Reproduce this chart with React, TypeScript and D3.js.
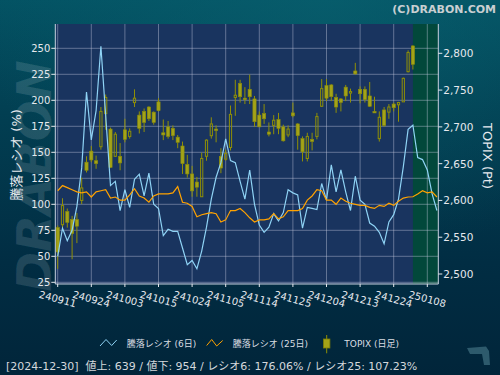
import React from "react";
import * as d3 from "d3";

// Trading days (YYMMDD)
const dates = [
  "240911","240912","240913","240917","240918","240919","240920",
  "240924","240925","240926","240927","240930","241001","241002",
  "241003","241004","241007","241008","241009","241010","241011",
  "241015","241016","241017","241018","241021","241022","241023",
  "241024","241025","241028","241029","241030","241031","241101",
  "241105","241106","241107","241108","241111","241112","241113",
  "241114","241115","241118","241119","241120","241121","241122",
  "241125","241126","241127","241128","241129","241202","241203",
  "241204","241205","241206","241209","241210","241211","241212",
  "241213","241216","241217","241218","241219","241220","241223",
  "241224","241225","241226","241227","241230","250106","250107",
  "250108","250109","250110",
];

// 騰落レシオ (6日)
const ratio6 = [
  50, 77, 65, 75, 98, 135, 208, 162, 190, 252,
  185, 118, 122, 94, 114, 97, 124, 129, 108, 130,
  100, 96, 70, 76, 74, 74, 58, 42, 46, 38,
  55, 78, 105, 126, 140, 163, 142, 140, 122, 105,
  133, 100, 80, 73, 78, 91, 84, 92, 114, 111,
  109, 77, 97, 96, 95, 120, 104, 138, 112, 133,
  112, 94, 127, 104, 100, 82, 79, 73, 62, 83,
  90, 105, 136, 172, 176.06, 145, 143, 133, 110, 94,
];

// 騰落レシオ (25日)
const ratio25 = [
  113, 118, 116, 114, 112, 111, 112, 107, 112, 113,
  114, 106, 107, 104, 104, 109, 115, 108, 106, 102,
  108, 110, 110, 110, 111, 117, 102, 101, 98, 88,
  90, 91, 92, 91, 83, 85, 94, 94, 96, 92,
  87, 83, 85, 85, 86, 91, 86, 88, 94, 94,
  94, 96, 104, 108, 114, 113, 104, 104, 100, 106,
  103, 101, 100, 99, 99, 97, 96, 99, 98, 101,
  99, 103, 106, 107, 107.23, 110, 113, 111, 112, 107,
];

// TOPIX daily OHLC
const topixOpen = [
  2563, 2567, 2585, 2574, 2574, 2600, 2652, 2667, 2654, 2673,
  2718, 2697, 2660, 2660, 2696, 2687, 2733, 2716, 2721, 2727,
  2720, 2734, 2692, 2700, 2698, 2686, 2674, 2649, 2636, 2625,
  2605, 2660, 2688, 2697, 2660, 2656, 2672, 2740, 2759, 2739,
  2751, 2738, 2716, 2718, 2693, 2702, 2710, 2700, 2689, 2719,
  2704, 2684, 2657, 2683, 2687, 2728, 2756, 2757, 2740, 2738,
  2754, 2746, 2776, 2751, 2751, 2742, 2721, 2684, 2723, 2720,
  2731, 2730, 2734, 2775, 2810,
];
const topixHigh = [
  2566, 2603, 2589, 2579, 2583, 2631, 2660, 2674, 2661, 2727,
  2744, 2699, 2693, 2678, 2711, 2698, 2751, 2721, 2725, 2728,
  2721, 2739, 2710, 2708, 2702, 2689, 2680, 2662, 2647, 2632,
  2665, 2683, 2713, 2702, 2671, 2669, 2729, 2764, 2764, 2754,
  2771, 2742, 2721, 2731, 2706, 2716, 2719, 2703, 2702, 2733,
  2705, 2687, 2692, 2692, 2719, 2765, 2765, 2758, 2745, 2739,
  2757, 2752, 2787, 2755, 2755, 2761, 2741, 2721, 2727, 2731,
  2733, 2734, 2767, 2804, 2811,
];
const topixLow = [
  2507, 2561, 2563, 2520, 2542, 2595, 2638, 2652, 2643, 2669,
  2696, 2644, 2659, 2641, 2679, 2684, 2727, 2691, 2693, 2708,
  2703, 2721, 2682, 2684, 2682, 2671, 2636, 2631, 2605, 2605,
  2605, 2654, 2684, 2679, 2637, 2654, 2668, 2715, 2733, 2731,
  2731, 2700, 2700, 2704, 2687, 2690, 2690, 2680, 2686, 2713,
  2669, 2653, 2653, 2668, 2683, 2727, 2735, 2735, 2719, 2721,
  2735, 2733, 2771, 2732, 2733, 2727, 2719, 2680, 2700, 2711,
  2721, 2707, 2734, 2774, 2778,
];
const topixClose = [
  2530, 2593, 2570, 2555, 2565, 2617, 2641, 2655, 2650, 2721,
  2740, 2645, 2690, 2651, 2683, 2694, 2739, 2698, 2706, 2711,
  2706, 2722, 2689, 2687, 2688, 2679, 2650, 2636, 2613, 2618,
  2657, 2682, 2704, 2695, 2644, 2664, 2717, 2743, 2741, 2737,
  2741, 2707, 2700, 2711, 2690, 2709, 2698, 2681, 2697, 2715,
  2688, 2666, 2687, 2680, 2714, 2752, 2739, 2741, 2727, 2733,
  2742, 2748, 2772, 2745, 2737, 2728, 2719, 2713, 2702, 2727,
  2726, 2733, 2766, 2801, 2785,
];

const leftTicks = [25, 50, 75, 100, 125, 150, 175, 200, 225, 250];
const rightTicks = [2500, 2550, 2600, 2650, 2700, 2750, 2800];
const tickEvery = 7;
const highlightFrom = "241230";

const legendLabels = ["騰落レシオ (6日)", "騰落レシオ (25日)", "TOPIX (日足)"];
const footerText =
  "[2024-12-30]\u00a0 値上: 639 / 値下: 954 / レシオ6: 176.06% / レシオ25: 107.23%";

const FONT = "'DejaVu Sans', 'Noto Sans CJK JP', sans-serif";

export default function App() {
  const W = 500;
  const H = 375;
  const plot = { left: 55.3, right: 438.3, top: 24, bottom: 284 };

  const x = d3.scaleLinear().domain([0, 77]).range([57.7, 427.3]);
  const yL = d3.scaleLinear().domain([25, 250]).range([282.3, 48.3]);
  const yR = d3.scaleLinear().domain([2500, 2800]).range([274, 53.3]);

  const line = d3
    .line<number>()
    .x((_, i) => x(i))
    .y((d) => yL(d));

  const tickIdx = dates.map((_, i) => i).filter((i) => i % tickEvery === 0);
  const hiStart = x(dates.indexOf(highlightFrom));
  const fmt = d3.format(",");

  const candles = topixOpen.map((o, i) => ({
    i,
    o,
    h: topixHigh[i],
    l: topixLow[i],
    c: topixClose[i],
  }));

  return (
    <svg
      width={W}
      height={H}
      style={{ position: "fixed", left: 0, top: 0, display: "block" }}
      fontFamily={FONT}
    >
      <defs>
        <linearGradient id="bg" x1="0" y1="0" x2="0" y2="1">
          <stop offset="0" stopColor="#035263" />
          <stop offset="0.3" stopColor="#023f52" />
          <stop offset="0.7" stopColor="#012d43" />
          <stop offset="1" stopColor="#01253a" />
        </linearGradient>
        <radialGradient id="glow" cx="0.65" cy="0" r="0.7">
          <stop offset="0" stopColor="#0a6472" stopOpacity="0.55" />
          <stop offset="1" stopColor="#0a6472" stopOpacity="0" />
        </radialGradient>
        <clipPath id="plotClip">
          <rect
            x={plot.left}
            y={plot.top}
            width={plot.right - plot.left}
            height={plot.bottom - plot.top}
          />
        </clipPath>
      </defs>
      <rect x={0} y={0} width={W} height={H} fill="url(#bg)" />
      <rect x={0} y={0} width={W} height={H} fill="url(#glow)" />

      {/* watermark */}
      <text
        transform="translate(38,176) rotate(-90)"
        textAnchor="middle"
        dominantBaseline="middle"
        fontSize={48}
        fontWeight="bold"
        fontStyle="italic"
        fill="#ffffff"
        fillOpacity={0.12}
        fontFamily="'DejaVu Sans', sans-serif"
      >
        DRABON
      </text>

      {/* copyright */}
      <text
        x={496}
        y={12.5}
        textAnchor="end"
        fontSize={11}
        fontWeight="bold"
        fill="#c9cfd2"
      >
        (C)DRABON.COM
      </text>

      {/* plot background */}
      <rect
        x={plot.left}
        y={plot.top}
        width={plot.right - plot.left}
        height={plot.bottom - plot.top}
        fill="#19345f"
      />
      <rect
        x={hiStart}
        y={plot.top}
        width={plot.right - hiStart}
        height={plot.bottom - plot.top}
        fill="#02483b"
      />

      {/* grid */}
      <g stroke="#c8cde0" strokeOpacity={0.42} strokeWidth={1}>
        {leftTicks.map((t) => (
          <line key={"h" + t} x1={plot.left} x2={plot.right} y1={yL(t)} y2={yL(t)} />
        ))}
        {tickIdx.map((i) => (
          <line key={"v" + i} x1={x(i)} x2={x(i)} y1={plot.top} y2={plot.bottom} />
        ))}
      </g>

      <g clipPath="url(#plotClip)">
        {/* candles */}
        {candles.map((d) => {
          const cx = x(d.i);
          const up = d.c >= d.o;
          const top = yR(Math.max(d.o, d.c));
          const bot = yR(Math.min(d.o, d.c));
          const hgt = Math.max(bot - top, 1.5);
          return (
            <g key={"c" + d.i}>
              <line x1={cx} x2={cx} y1={yR(d.h)} y2={top} stroke="#8f8f06" strokeWidth={1} />
              <line x1={cx} x2={cx} y1={top + hgt} y2={yR(d.l)} stroke="#8f8f06" strokeWidth={1} />
              {up ? (
                <rect
                  x={cx - 1.1}
                  y={top}
                  width={2.2}
                  height={hgt}
                  fill="none"
                  stroke="#8f8f06"
                  strokeWidth={1}
                />
              ) : (
                <rect
                  x={cx - 1.6}
                  y={top}
                  width={3.2}
                  height={hgt}
                  fill="#a3a318"
                  stroke="#8f8f06"
                  strokeWidth={0.6}
                />
              )}
            </g>
          );
        })}
        <path d={line(ratio6) || ""} fill="none" stroke="#8fd3f5" strokeWidth={1.2} />
        <path d={line(ratio25) || ""} fill="none" stroke="#ffa200" strokeWidth={1.2} />
      </g>

      {/* axes lines */}
      <g stroke="#c9d2e0" strokeWidth={1}>
        <line x1={plot.left} x2={plot.left} y1={plot.top} y2={plot.bottom} />
        <line x1={plot.right} x2={plot.right} y1={plot.top} y2={plot.bottom} />
        <line x1={plot.left} x2={plot.right} y1={plot.bottom} y2={plot.bottom} />
      </g>

      {/* left axis */}
      <g fontSize={10} fill="#e6e9ee">
        {leftTicks.map((t) => (
          <g key={"l" + t}>
            <line x1={plot.left - 4} x2={plot.left} y1={yL(t)} y2={yL(t)} stroke="#e6e9ee" />
            <text x={plot.left - 5} y={yL(t)} textAnchor="end" dominantBaseline="central">
              {t}
            </text>
          </g>
        ))}
      </g>
      {/* right axis */}
      <g fontSize={10.5} fill="#e6e9ee">
        {rightTicks.map((t) => (
          <g key={"r" + t}>
            <line x1={plot.right} x2={plot.right + 4} y1={yR(t)} y2={yR(t)} stroke="#e6e9ee" />
            <text x={plot.right + 5} y={yR(t)} textAnchor="start" dominantBaseline="central">
              {fmt(t)}
            </text>
          </g>
        ))}
      </g>
      {/* bottom axis */}
      <g fontSize={10} fill="#e6e9ee">
        {tickIdx.map((i) => (
          <g key={"b" + i}>
            <line x1={x(i)} x2={x(i)} y1={plot.bottom} y2={plot.bottom + 3} stroke="#e6e9ee" />
            <text
              x={x(i)}
              y={299}
              textAnchor="middle"
              dominantBaseline="central"
              transform={`rotate(15 ${x(i)} 299)`}
            >
              {dates[i]}
            </text>
          </g>
        ))}
      </g>

      {/* axis titles */}
      <text
        transform="translate(16,155) rotate(-90)"
        textAnchor="middle"
        dominantBaseline="central"
        fontSize={13}
        fill="#e6e9ee"
      >
        騰落レシオ (%)
      </text>
      <text
        transform="translate(487,156) rotate(90)"
        textAnchor="middle"
        dominantBaseline="central"
        fontSize={13}
        fill="#e6e9ee"
      >
        TOPIX (Pt)
      </text>

      {/* legend */}
      <g fontSize={9} fill="#d9dde2">
        <polyline
          points="100,346 106,339.5 111.7,345.5 116.7,340"
          fill="none"
          stroke="#8fd3f5"
          strokeWidth={1}
        />
        <text x={126.7} y={347.3}>{legendLabels[0]}</text>
        <polyline
          points="206.7,345.5 211.7,339.5 216.7,346 222.7,340.5"
          fill="none"
          stroke="#ffa200"
          strokeWidth={1}
        />
        <text x={232.7} y={347.3}>{legendLabels[1]}</text>
        <line x1={326.7} x2={326.7} y1={335} y2={353.3} stroke="#8f8f06" />
        <rect x={323.5} y={339} width={6.4} height={9} fill="#a3a318" stroke="#7d7d05" strokeWidth={0.8} />
        <text x={344.3} y={347.3}>{legendLabels[2]}</text>
      </g>

      {/* footer */}
      <text x={6} y={369.5} fontSize={11} fill="#d4d8dc">
        {footerText}
      </text>

      {/* corner mark */}
      <path
        d="M467,348 L486,346.5 L489,351 L490,365 L484,365 L482,354 L470,354 Z"
        fill="#2d5a6c"
      />
    </svg>
  );
}
